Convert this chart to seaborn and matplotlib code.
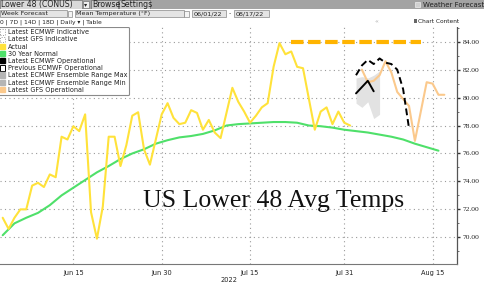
import numpy as np
import pandas as pd
import matplotlib
matplotlib.use("Agg")
import matplotlib.pyplot as plt
import matplotlib.dates as mdates
from matplotlib.patches import Rectangle, Patch
from matplotlib.ticker import MultipleLocator, FormatStrFormatter
import seaborn as sns

# ---------------- data ----------------
actual_start = "2022-06-03"
actual_vals = [71.4, 70.6, 71.4, 72.0, 72.0, 73.7, 73.9, 73.6, 74.5, 74.3,
               77.2, 77.0, 77.95, 77.6, 78.8, 71.8, 69.9, 72.2, 77.2, 77.2,
               75.1, 76.6, 78.7, 78.95, 76.3, 75.2, 77.0, 78.8, 79.6, 78.55,
               78.1, 78.2, 79.1, 78.9, 77.7, 78.4, 77.5, 77.1, 78.9, 80.7,
               79.7, 79.0, 78.2, 78.7, 79.3, 79.6, 82.2, 83.9, 83.1, 83.3,
               82.2, 82.1, 79.9, 77.7, 79.0, 79.3, 78.1, 79.0, 78.2, 78.0]

normal_start = "2022-06-03"   # every 2 days
normal_vals = [70.15, 71.0, 71.4, 71.75, 72.3, 73.0, 73.55, 74.1, 74.65, 75.1,
               75.6, 76.0, 76.3, 76.7, 76.95, 77.15, 77.25, 77.4, 77.65, 78.0,
               78.1, 78.15, 78.2, 78.25, 78.25, 78.2, 78.0, 77.95, 77.85, 77.7,
               77.6, 77.5, 77.35, 77.2, 77.0, 76.7, 76.45, 76.2]

indicative_dates = ["2022-07-22", "2022-08-13"]
indicative_vals = [84.0, 84.0]

ecmwf_start = "2022-08-02"
ecmwf_vals = [80.3, 80.75, 81.2, 80.45]

prev_ecmwf_start = "2022-08-02"
prev_ecmwf_vals = [81.6, 82.3, 82.7, 82.4, 82.8, 82.5, 82.4, 82.0, 80.6, 77.8]

ens_start = "2022-08-02"
ens_max = [81.4, 81.5, 81.4, 81.6, 81.9]
ens_min = [79.6, 79.3, 79.7, 78.5, 78.8]

gfs_start = "2022-08-03"
gfs_vals = [82.0, 81.1, 81.2, 81.6, 82.6, 81.8, 80.4, 79.9, 79.4, 76.9,
            79.0, 81.1, 81.0, 80.2, 80.2]

legend_labels = ["Latest ECMWF Indicative", "Latest GFS Indicative", "Actual",
                 "30 Year Normal", "Latest ECMWF Operational",
                 "Previous ECMWF Operational", "Latest ECMWF Ensemble Range Max",
                 "Latest ECMWF Ensemble Range Min", "Latest GFS Operational"]

major_ticks = ["2022-06-15", "2022-06-30", "2022-07-15", "2022-07-31", "2022-08-15"]
major_labels = ["Jun 15", "Jun 30", "Jul 15", "Jul 31", "Aug 15"]
minor_ticks = ["2022-06-07", "2022-06-22", "2022-07-08", "2022-07-23", "2022-08-08"]

title_text = "US Lower 48 Avg Temps"

# ---------------- colours ----------------
C_ACT = "#FFE23A"
C_NORM = "#4FE06A"
C_IND = "#FFB400"
C_GFS = "#FBC98C"
C_ENS = "#E2E2E2"

sns.set_theme(style="white")
plt.rcParams['font.family'] = ['DejaVu Sans']

fig = plt.figure(figsize=(4.85, 2.84), dpi=100)
ax = fig.add_axes([0.0, 0.0694, 0.943, 0.8355])
ax.set_facecolor("white")

act_df = pd.DataFrame({"date": pd.date_range(actual_start, periods=len(actual_vals)), "v": actual_vals})
norm_df = pd.DataFrame({"date": pd.date_range(normal_start, periods=len(normal_vals), freq="2D"), "v": normal_vals})
ind_df = pd.DataFrame({"date": pd.to_datetime(indicative_dates), "v": indicative_vals})
ec_df = pd.DataFrame({"date": pd.date_range(ecmwf_start, periods=len(ecmwf_vals)), "v": ecmwf_vals})
pec_df = pd.DataFrame({"date": pd.date_range(prev_ecmwf_start, periods=len(prev_ecmwf_vals)), "v": prev_ecmwf_vals})
ens_dates = pd.date_range(ens_start, periods=len(ens_max))
gfs_df = pd.DataFrame({"date": pd.date_range(gfs_start, periods=len(gfs_vals)), "v": gfs_vals})

ax.fill_between(ens_dates, ens_min, ens_max, color=C_ENS, lw=0, zorder=1)
sns.lineplot(data=norm_df, x="date", y="v", ax=ax, color=C_NORM, lw=1.5, zorder=3)
sns.lineplot(data=act_df, x="date", y="v", ax=ax, color=C_ACT, lw=1.5, zorder=4)
sns.lineplot(data=ind_df, x="date", y="v", ax=ax, color=C_IND, lw=3.0,
             linestyle=(0, (3.0, 1.1)), zorder=4)
sns.lineplot(data=gfs_df, x="date", y="v", ax=ax, color=C_GFS, lw=1.5, zorder=4)
sns.lineplot(data=ec_df, x="date", y="v", ax=ax, color="black", lw=1.4, zorder=5)
sns.lineplot(data=pec_df, x="date", y="v", ax=ax, color="black", lw=1.4,
             linestyle=(0, (3.5, 2)), zorder=5)

ax.set_xlim(pd.Timestamp("2022-06-02 13:00"), pd.Timestamp("2022-08-19 05:00"))
ax.set_ylim(68.07, 85.05)

# axes styling
ax.yaxis.tick_right()
ax.yaxis.set_major_locator(MultipleLocator(2))
ax.yaxis.set_minor_locator(MultipleLocator(1))
ax.yaxis.set_major_formatter(FormatStrFormatter("%.2f"))
ax.set_ylabel("")
ax.set_xticks(pd.to_datetime(major_ticks))
ax.set_xticklabels(major_labels)
ax.set_xticks(pd.to_datetime(minor_ticks), minor=True)
ax.set_xlabel("2022", fontsize=4.8, labelpad=0.5, color="#222222")
ax.tick_params(axis="y", which="major", direction="out", length=2.5, width=1.0,
               labelsize=5.4, pad=1.5, colors="#333333", labelcolor="#222222")
ax.tick_params(axis="y", which="minor", direction="out", length=1.5, width=0.6, colors="#555555")
ax.tick_params(axis="x", which="major", direction="out", length=2.5, width=0.6,
               labelsize=4.8, pad=1.5, colors="#555555", labelcolor="#222222")
ax.tick_params(axis="x", which="minor", direction="out", length=2.0, width=0.6, colors="#555555")
for lab in ax.get_yticklabels():
    lab.set_fontfamily("Liberation Serif")

for s in ["top", "left"]:
    ax.spines[s].set_visible(False)
ax.spines["right"].set_color("#555555")
ax.spines["right"].set_linewidth(0.9)
ax.spines["bottom"].set_color("#777777")
ax.spines["bottom"].set_linewidth(0.8)

ax.grid(True, which="major", color="#9a9a9a", linestyle=(0, (1, 3)), lw=0.8)
ax.set_axisbelow(True)

# title annotation
fig.text(143 / 485, 1 - 207 / 284, title_text, fontsize=18.5,
         family="Liberation Serif", color="#111111", ha="left", va="baseline", zorder=6)

# legend
handles = [
    Patch(facecolor="white", edgecolor="#9a9a9a", linestyle=":", lw=0.7),
    Patch(facecolor="white", edgecolor="#9a9a9a", linestyle=":", lw=0.7),
    Patch(facecolor=C_ACT, edgecolor=C_ACT),
    Patch(facecolor=C_NORM, edgecolor=C_NORM),
    Patch(facecolor="black", edgecolor="black"),
    Patch(facecolor="white", edgecolor="black", lw=0.7),
    Patch(facecolor="#b5b5b5", edgecolor="#b5b5b5"),
    Patch(facecolor="#b5b5b5", edgecolor="#b5b5b5"),
    Patch(facecolor=C_GFS, edgecolor=C_GFS),
]
leg = ax.legend(handles, legend_labels, loc="upper left", bbox_to_anchor=(-0.006, 1.0),
                fontsize=4.7, frameon=True, fancybox=True, borderaxespad=0,
                handlelength=0.9, handleheight=0.9, handletextpad=0.35,
                labelspacing=0.18, borderpad=0.35)
leg.get_frame().set_edgecolor("#8a8a8a")
leg.get_frame().set_linewidth(0.8)
leg.get_frame().set_alpha(1)
for t in leg.get_texts():
    t.set_color("#222222")

# ---------------- toolbar (Bloomberg-style header) ----------------
W, H = 485.0, 284.0
def rect(x, y, w, h, fc, ec="none", lw=0.5):
    fig.add_artist(Rectangle((x / W, 1 - (y + h) / H), w / W, h / H,
                             transform=fig.transFigure, facecolor=fc,
                             edgecolor=ec, lw=lw, zorder=10))
def txt(x, y, s, size=5.0, color="#222222", ha="left", **kw):
    fig.text(x / W, 1 - y / H, s, fontsize=size, color=color, ha=ha,
             va="center", zorder=11, **kw)

rect(0, 0, 485, 9.5, "#a3a3a3")
rect(0, 0.5, 82, 8.5, "#d9d9d9", "#777777")
txt(1, 4.8, "Lower 48 (CONUS)", 5.6)
rect(83, 1.5, 6, 6.5, "#f0f0f0", "#777777")
txt(86, 4.8, "▾", 4.5, ha="center")
rect(91, 0.5, 27, 8.5, "#c9c9c9", "#6a6a6a")
txt(92.5, 4.8, "Browse", 5.6)
rect(119, 0.5, 31, 8.5, "#c9c9c9", "#6a6a6a")
txt(120.5, 4.8, "Settings", 5.6)
rect(415, 2, 5, 5, "#d0d0d0", "#eeeeee")
txt(484, 4.8, "Weather Forecast", 5.0, ha="right", color="#222222")

rect(0, 9.5, 485, 8.5, "white")
rect(0, 10, 67, 7.3, "#e4e4e4", "#888888")
txt(1, 13.8, "Week Forecast", 4.6)
rect(67.5, 10.5, 4.5, 6.3, "#f4f4f4", "#888888")
rect(75, 10, 109, 7.3, "#e4e4e4", "#888888")
txt(76.5, 13.8, "Mean Temperature (°F)", 4.6)
rect(184.5, 10.5, 4.5, 6.3, "#f4f4f4", "#888888")
rect(192, 10, 34, 7.3, "#e4e4e4", "#888888")
txt(193.5, 13.8, "06/01/22", 4.6)
txt(229.5, 13.8, "-", 4.6, ha="center")
rect(234, 10, 35, 7.3, "#e4e4e4", "#888888")
txt(235.5, 13.8, "08/17/22", 4.6)

rect(0, 18, 485, 8.5, "white")
txt(0, 22, "0 | 7D | 14D | 18D | Daily ▾ | Table", 4.3)
txt(375, 22, "«", 4.5, color="#aaaaaa")
fig.add_artist(plt.Line2D([372 / W, 372 / W], [1 - 19 / H, 1 - 26 / H],
                          transform=fig.transFigure, color="#bbbbbb", lw=0.6))
fig.add_artist(plt.Line2D([380 / W, 380 / W], [1 - 19 / H, 1 - 26 / H],
                          transform=fig.transFigure, color="#bbbbbb", lw=0.6))
txt(418, 21.5, "Chart Content", 4.2)
rect(414, 19.5, 3, 3.5, "#666666")

fig.savefig("out.png", dpi=100)
